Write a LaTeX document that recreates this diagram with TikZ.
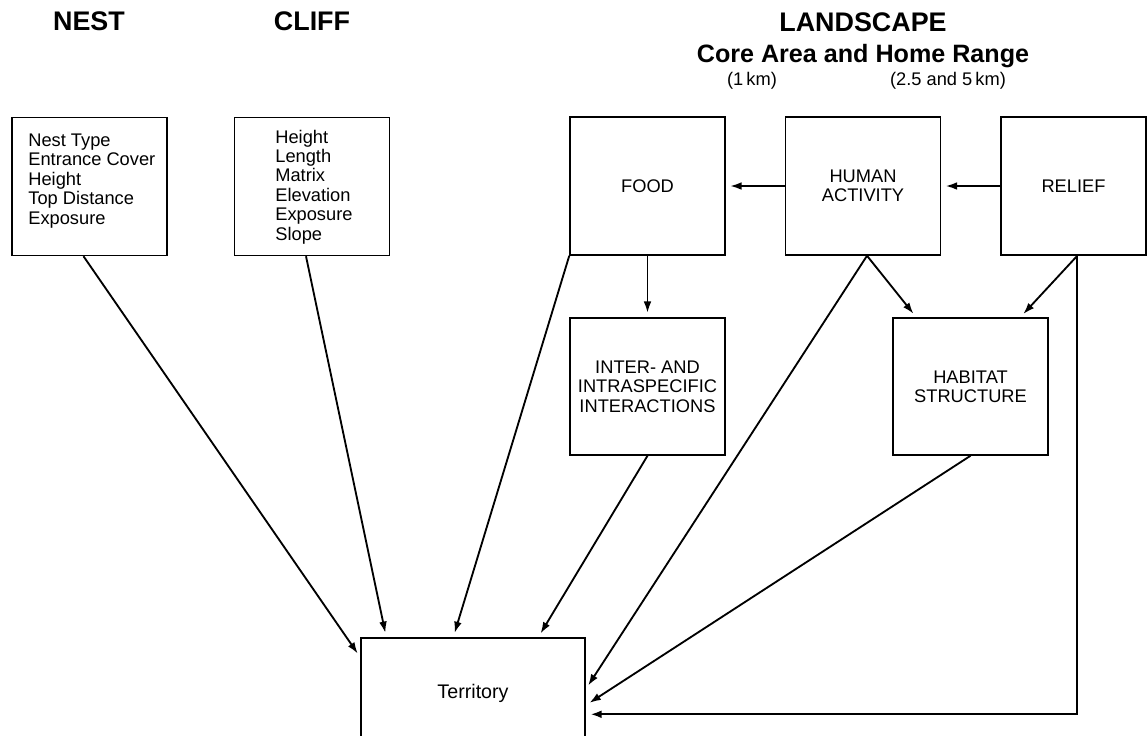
\documentclass[tikz,border=0pt]{standalone}
\usepackage{fontspec}
\setmainfont{Liberation Sans}
\usetikzlibrary{arrows.meta, calc}

\begin{document}
\begin{tikzpicture}[x=0.02cm, y=-0.02cm,
  box/.style={draw, line width=0.85pt, minimum width=3.1cm, minimum height=2.76cm,
    inner sep=0pt, align=center, font=\fontsize{10.4}{11.05}\selectfont},
  list/.style={anchor=north west, inner sep=0pt, align=left,
    font=\fontsize{10.4}{11.05}\selectfont},
  head/.style={anchor=base, font=\fontsize{15.3}{18}\selectfont\bfseries},
  link/.style={-{Latex[length=6.5pt,width=4.4pt]}, line width=1.05pt, shorten >=2.5pt}]

  \useasboundingbox (0,0) rectangle (1148,735);
  \clip (0,0) rectangle (1148,735);

  %% headings
  \node[head] (hnest) at (89,30) {NEST};
  \node[head] (hcliff) at (312,30) {CLIFF};
  \node[head] (hland) at (863,31) {LANDSCAPE};
  \node[head, font=\fontsize{14.3}{17}\selectfont\bfseries] (hcore) at (863,62)
    {Core Area and Home Range};
  \node[anchor=base, font=\fontsize{10.4}{12}\selectfont] (hone) at (752,85) {(1\,km)};
  \node[anchor=base, font=\fontsize{10.4}{12}\selectfont] (htwo) at (948,85) {(2.5 and 5\,km)};

  %% nest and cliff
  \node[box] (nest) at (89.5,186.5) {};
  \node[list] (nestlist) at (28,133.5)
    {Nest Type\\Entrance Cover\\Height\\Top Distance\\Exposure};
  \node[box] (cliff) at (312,186.5) {};
  \node[list] (clifflist) at (275,129.5)
    {Height\\Length\\Matrix\\Elevation\\Exposure\\Slope};

  %% landscape
  \node[box] (food) at (647.5,186) {FOOD};
  \node[box] (human) at (863,186) {HUMAN\\ACTIVITY};
  \node[box, minimum width=2.9cm] (relief) at (1073.5,186) {RELIEF};
  \node[box, minimum height=2.74cm] (inter) at (647.5,386.5)
    {INTER- AND\\INTRASPECIFIC\\INTERACTIONS};
  \node[box, minimum height=2.74cm] (habitat) at (970.5,386.5) {HABITAT\\STRUCTURE};

  %% territory
  \node[box, minimum width=4.48cm, minimum height=2.2cm, font=\fontsize{11.2}{13}\selectfont]
    (terr) at (473,693) {Territory};

  %% links inside the landscape
  \draw[link] (relief.west) -- (human.east);
  \draw[link] (human.west) -- (food.east);
  \draw[link] (food.south) -- (inter.north);
  \draw[link] ($(human.south)+(4,0)$) -- ($(habitat.north west)+(24,0)$);
  \draw[link] ($(relief.south west)+(77,0)$) -- ($(habitat.north west)+(128,0)$);

  %% links into territory
  \draw[link] ($(nest.south)+(-6,0)$) -- ($(terr.north west)+(0,20)$);
  \draw[link] ($(cliff.south)+(-6,0)$) -- ($(terr.north west)+(26,0)$);
  \draw[link] (food.south west) -- ($(terr.north west)+(93,0)$);
  \draw[link] (inter.south) -- ($(terr.north west)+(178,0)$);
  \draw[link] ($(human.south)+(4,0)$) -- ($(terr.north east)+(0,52)$);
  \draw[link] (habitat.south) -- ($(terr.north east)+(0,68)$);
  \draw[link, line width=1.3pt] ($(relief.south west)+(77,0)$) |- ($(terr.north east)+(0,77)$);

\end{tikzpicture}
\end{document}
